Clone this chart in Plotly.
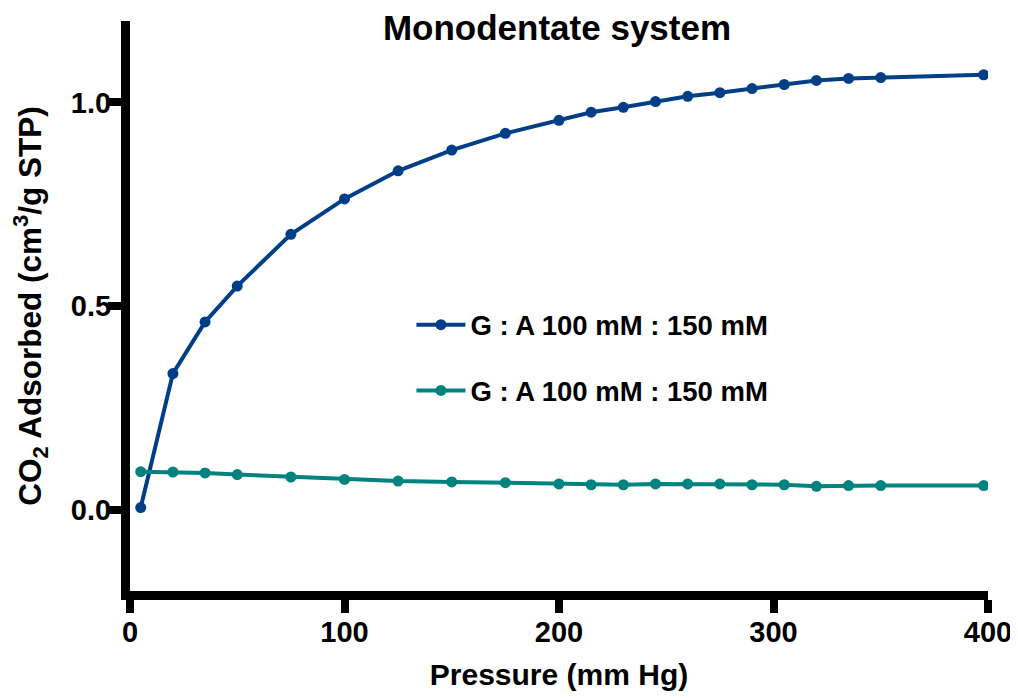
import plotly.graph_objects as go

pressure = [5, 20, 35, 50, 75, 100, 125, 150, 175, 200, 215, 230, 245, 260, 275, 290, 305, 320, 335, 350, 398]
series_a = [0.005, 0.334, 0.461, 0.549, 0.676, 0.763, 0.832, 0.883, 0.924, 0.956, 0.976, 0.988, 1.002, 1.015,
            1.024, 1.034, 1.044, 1.054, 1.059, 1.061, 1.068]
series_b = [0.093, 0.092, 0.090, 0.086, 0.080, 0.074, 0.070, 0.068, 0.066, 0.063, 0.061, 0.061, 0.063, 0.063,
            0.063, 0.061, 0.061, 0.057, 0.059, 0.059, 0.059]
names = ["G : A 100 mM : 150 mM", "G : A 100 mM : 150 mM"]
colors = ["#003f87", "#00837e"]
x_ticks = [0, 100, 200, 300, 400]
y_ticks = [0.0, 0.5, 1.0]
y_ticklabels = ["0.0", "0.5", "1.0"]

FONT = "Liberation Sans, Arial, sans-serif"
# the page body adds an 8px offset, so the figure is 16px smaller than the window
W, H = 1010, 690
L, R, T, B = 121.5, 30, 13, 106.5

fig = go.Figure()
for i, ys in enumerate([series_a, series_b]):
    fig.add_trace(go.Scatter(
        x=pressure, y=ys, mode="lines+markers", name=f"<b>{names[i]}</b>",
        legendgroup=f"g{i}",
        line=dict(color=colors[i], width=4),
        marker=dict(color=colors[i], size=11),
    ))

fig.update_layout(
    width=W, height=H,
    margin=dict(l=L, r=R, t=T, b=B, autoexpand=False),
    plot_bgcolor="white", paper_bgcolor="white",
    font=dict(family=FONT, color="black"),
    title=dict(text="<b>Monodentate system</b>", x=549 / W, xanchor="center",
               y=1 - 20 / H, yanchor="middle", font=dict(size=35, family=FONT, color="black")),
    showlegend=True,
    legend=dict(x=0.328, y=0.51, xanchor="left", yanchor="top", tracegroupgap=27,
                font=dict(size=27.5, family=FONT, color="black"), bgcolor="rgba(0,0,0,0)",
                itemwidth=49),
)
fig.update_xaxes(
    range=[0, 400], tickvals=x_ticks, ticktext=[f"<b>{v}</b>" for v in x_ticks],
    showline=True, linecolor="black", linewidth=9, showgrid=False, zeroline=False,
    ticks="outside", ticklen=13, tickwidth=8, tickcolor="black", automargin=False,
    ticklabelstandoff=-6,
    tickfont=dict(size=29, family=FONT, color="black"),
    title=dict(text="<b>Pressure (mm Hg)</b>", font=dict(size=30, family=FONT, color="black"), standoff=21),
)
fig.update_yaxes(
    range=[-0.2, 1.2], tickvals=y_ticks, ticktext=[f"<b>{t}</b>" for t in y_ticklabels],
    showline=True, linecolor="black", linewidth=9, showgrid=False, zeroline=False,
    ticks="outside", ticklen=13, tickwidth=8, tickcolor="black", automargin=False,
    ticklabelstandoff=-9,
    tickfont=dict(size=29, family=FONT, color="black"),
    title=dict(text="<b>CO<sub>2</sub> Adsorbed (cm<sup>3</sup>/g STP)</b>",
               font=dict(size=31.5, family=FONT, color="black"), standoff=27),
)

fig.write_html("out.html")
